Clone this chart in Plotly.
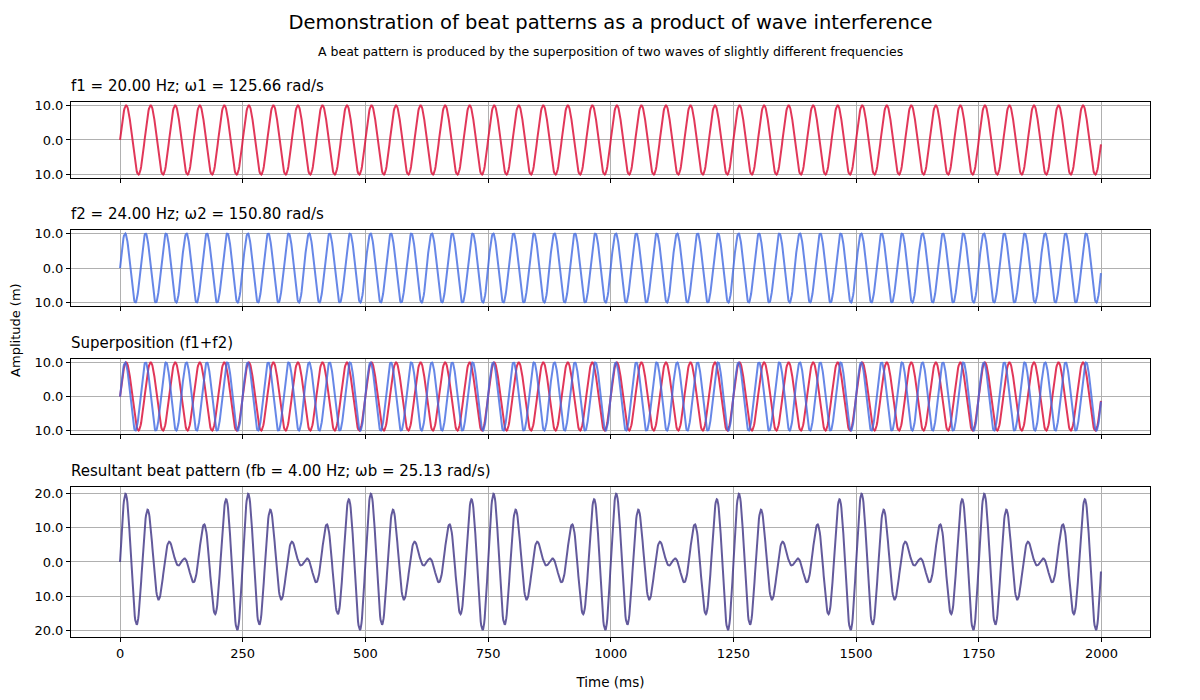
import numpy as np
import plotly.graph_objects as go
from plotly.subplots import make_subplots

# wave parameters
f1 = 20.0          # Hz
f2 = 24.0          # Hz
amplitude = 10.0   # m
duration_ms = 2000
step_ms = 1

t_ms = np.arange(0, duration_ms, step_ms)
t_s = t_ms / 1000.0

w1 = 2 * np.pi * f1
w2 = 2 * np.pi * f2
fb = abs(f2 - f1)
wb = 2 * np.pi * fb

wave1 = amplitude * np.sin(w1 * t_s)
wave2 = amplitude * np.sin(w2 * t_s)
beat = wave1 + wave2

small_ticks = [-10, 0, 10]
small_labels = ['10.0', '0.0', '10.0']
big_ticks = [-20, -10, 0, 10, 20]
big_labels = ['20.0', '10.0', '0.0', '10.0', '20.0']
x_ticks = [0, 250, 500, 750, 1000, 1250, 1500, 1750, 2000]

red = 'rgba(220, 20, 60, 0.85)'
blue = 'rgba(65, 105, 225, 0.8)'
purple = 'rgba(72, 61, 139, 0.85)'

fig = make_subplots(rows=4, cols=1)

fig.add_trace(go.Scatter(x=t_ms, y=wave1, mode='lines', line=dict(color=red, width=2)), row=1, col=1)
fig.add_trace(go.Scatter(x=t_ms, y=wave2, mode='lines', line=dict(color=blue, width=2)), row=2, col=1)
fig.add_trace(go.Scatter(x=t_ms, y=wave1, mode='lines', line=dict(color=red, width=2)), row=3, col=1)
fig.add_trace(go.Scatter(x=t_ms, y=wave2, mode='lines', line=dict(color=blue, width=2)), row=3, col=1)
fig.add_trace(go.Scatter(x=t_ms, y=beat, mode='lines', line=dict(color=purple, width=2)), row=4, col=1)


def pad(lo, hi):
    span = hi - lo
    return [lo - 0.05 * span, hi + 0.05 * span]


x_range = pad(t_ms.min(), t_ms.max())
domains = [[0.858, 1.0], [0.6187, 0.7607], [0.3794, 0.5196], [0.0, 0.2804]]
series = [wave1, wave2, np.concatenate([wave1, wave2]), beat]
titles = ['f1 = %.2f Hz; \u03c91 = %.2f rad/s' % (f1, w1),
          'f2 = %.2f Hz; \u03c92 = %.2f rad/s' % (f2, w2),
          'Superposition (f1+f2)',
          'Resultant beat pattern (fb = %.2f Hz; \u03c9b = %.2f rad/s)' % (fb, wb)]

common = dict(showline=True, mirror=True, linecolor='black', linewidth=1,
              showgrid=True, gridcolor='#b0b0b0', gridwidth=1, zeroline=False,
              ticks='outside', ticklen=4, tickcolor='black', automargin=False,
              tickfont=dict(size=13, color='black'))

for i in range(4):
    r = i + 1
    fig.update_xaxes(range=x_range, tickvals=x_ticks, showticklabels=(r == 4),
                     **common, row=r, col=1)
    if r == 4:
        tv, tl = big_ticks, big_labels
    else:
        tv, tl = small_ticks, small_labels
    fig.update_yaxes(range=pad(series[i].min(), series[i].max()), tickvals=tv, ticktext=tl,
                     domain=domains[i], **common, row=r, col=1)
    fig.add_annotation(text=titles[i], xref='paper', yref='paper', x=0, y=domains[i][1],
                       xanchor='left', yanchor='bottom', yshift=5, xshift=-2, showarrow=False,
                       font=dict(size=15, color='black'))

fig.update_xaxes(title=dict(text='Time (ms)', font=dict(size=13.5, color='black'), standoff=17), row=4, col=1)

fig.add_annotation(text='Amplitude (m)', xref='paper', yref='paper', x=-0.051, y=0.574,
                   textangle=-90, showarrow=False, xanchor='center', yanchor='middle',
                   font=dict(size=13, color='black'))
fig.add_annotation(text='A beat pattern is produced by the superposition of two waves of slightly different frequencies',
                   xref='paper', yref='paper', x=0.5, y=1.0, yshift=51, showarrow=False,
                   xanchor='center', yanchor='middle', font=dict(size=12.5, color='black'))

# page body has an 8px margin, so the figure is sized to fit inside it
fig.update_layout(
    title=dict(text='Demonstration of beat patterns as a product of wave interference',
               x=0.5, xanchor='center', xref='paper', y=1 - 14 / 684, yanchor='middle',
               font=dict(size=19.5, color='black')),
    width=1184, height=684,
    margin=dict(l=63, r=42, t=94, b=55),
    showlegend=False,
    plot_bgcolor='white', paper_bgcolor='white',
    font=dict(family='DejaVu Sans'),
)

fig.write_html('out.html')
